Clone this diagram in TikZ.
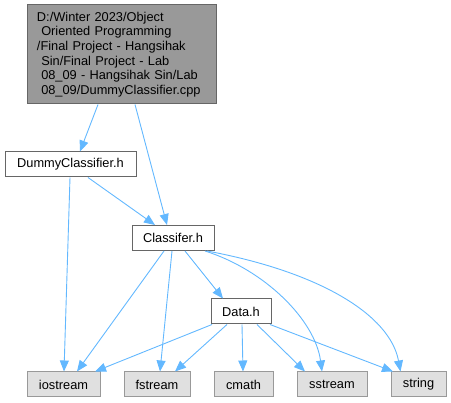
\documentclass[tikz,border=0pt]{standalone}
\usepackage{fontspec}
\setmainfont{Liberation Sans}
\usetikzlibrary{arrows.meta}
\definecolor{edge}{RGB}{99,184,255}
\definecolor{rim}{RGB}{102,102,102}
\definecolor{sysfill}{RGB}{224,224,224}
\definecolor{sysrim}{RGB}{153,153,153}
\definecolor{mainfill}{RGB}{153,153,153}

\begin{document}
\begin{tikzpicture}[x=1pt, y=-1pt,
  every node/.style={font=\fontsize{12.8}{14.7}\selectfont, inner sep=0pt, minimum height=25pt},
  file/.style={draw=rim, fill=white, line width=1pt},
  sys/.style={draw=sysrim, fill=sysfill, line width=1pt},
  dep/.style={draw=edge, line width=0.9pt, -{Triangle[length=11pt,width=9pt]}}]
\useasboundingbox (0,0) rectangle (451,403);
\node[draw=rim, fill=mainfill, line width=1pt, minimum width=189pt, minimum height=99pt,
  text width=169pt, align=left] (cpp) at (121.5,54.5)
  {D:/Winter 2023/Object\\
   \ Oriented Programming\\
   /Final Project - Hangsihak\\
   \ Sin/Final Project - Lab\\
   \ 08\_09 - Hangsihak Sin/Lab\\
   \ 08\_09/DummyClassifier.cpp};
\node[file, minimum width=131pt] (dummy) at (70.5,164.5) {DummyClassifier.h};
\node[file, minimum width=82pt] (classifer) at (173,238) {Classifer.h};
\node[file, minimum width=60pt] (data) at (241,311.5) {Data.h};
\node[sys, minimum width=73pt] (iostream) at (63.5,384.5) {iostream};
\node[sys, minimum width=66pt] (fstream) at (157,384.5) {fstream};
\node[sys, minimum width=59pt] (cmath) at (243.5,384.5) {cmath};
\node[sys, minimum width=70pt] (sstream) at (332,384.5) {sstream};
\node[sys, minimum width=55pt] (string) at (418.5,384.5) {string};
\draw[dep] ([xshift=-23.5pt]cpp.south) -- ([xshift=9.5pt]dummy.north);
\draw[dep] ([xshift=13.5pt]cpp.south) -- ([xshift=-6pt]classifer.north);
\draw[dep] ([xshift=17.5pt]dummy.south) -- ([xshift=-18pt]classifer.north);
\draw[dep] ([xshift=-0.5pt]dummy.south) -- ([xshift=0.5pt]iostream.north);
\draw[dep] ([xshift=-9pt]classifer.south) -- ([xshift=13.5pt]iostream.north);
\draw[dep] ([xshift=-1pt]classifer.south) -- ([xshift=3pt]fstream.north);
\draw[dep] ([xshift=12pt]classifer.south) -- ([xshift=-18pt]data.north);
\draw[dep] ([xshift=32pt]classifer.south) .. controls (265,270) and (315,320) .. ([xshift=-10pt]sstream.north);
\draw[dep] ([xshift=34pt]classifer.south) .. controls (320,272) and (390,315) .. ([xshift=-18pt]string.north);
\draw[dep] ([xshift=-29pt]data.south) -- ([xshift=31.5pt]iostream.north);
\draw[dep] ([xshift=-14pt]data.south) -- ([xshift=18pt]fstream.north);
\draw[dep] ([xshift=1pt]data.south) -- ([xshift=-0.5pt]cmath.north);
\draw[dep] ([xshift=16pt]data.south) -- ([xshift=-27pt]sstream.north);
\draw[dep] ([xshift=29pt]data.south) -- ([xshift=-25.5pt]string.north);
\end{tikzpicture}
\end{document}
